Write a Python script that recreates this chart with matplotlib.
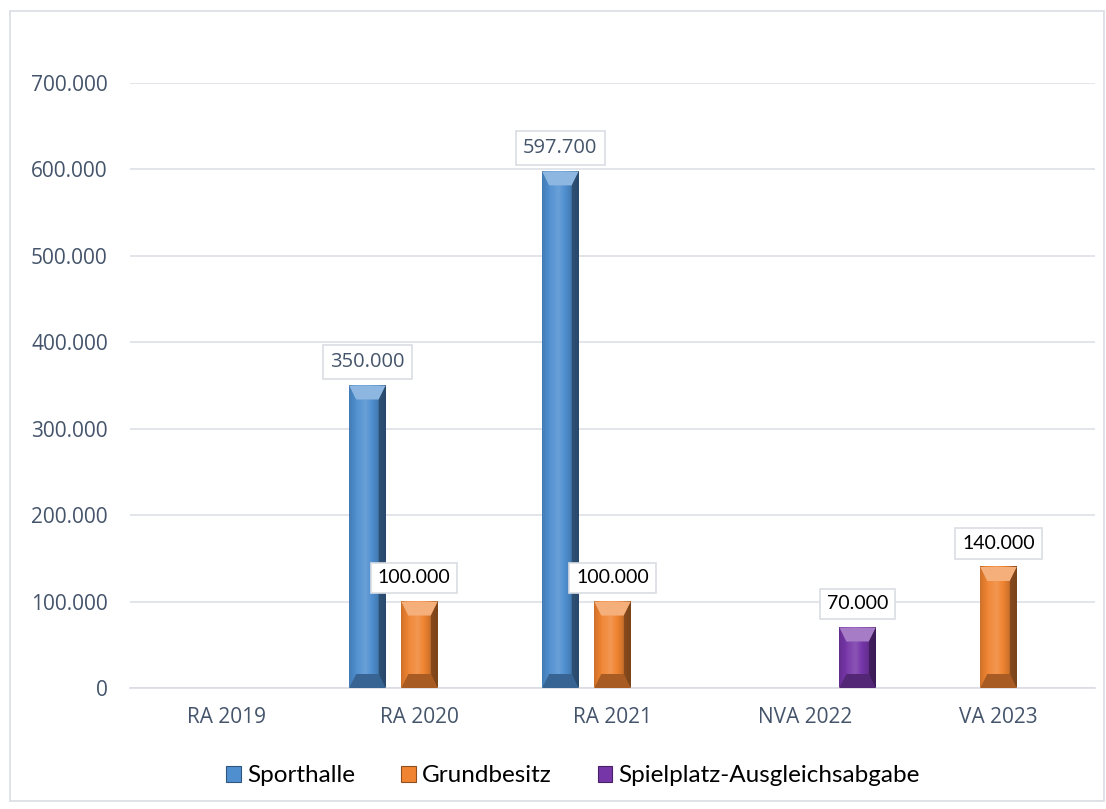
import numpy as np
import matplotlib
matplotlib.use("Agg")
import matplotlib.pyplot as plt
from matplotlib.patches import Polygon, Rectangle, Patch
from matplotlib.colors import to_rgb

# data
categories = ["RA 2019", "RA 2020", "RA 2021", "NVA 2022", "VA 2023"]
series_names = ["Sporthalle", "Grundbesitz", "Spielplatz-Ausgleichsabgabe"]
sporthalle = [0, 350000, 597700, 0, 0]
grundbesitz = [0, 100000, 100000, 0, 140000]
spielplatz = [0, 0, 0, 70000, 0]
y_ticks = [0, 100000, 200000, 300000, 400000, 500000, 600000, 700000]

colors = ["#4F8FD0", "#F08432", "#7636A8"]
label_colors = ["#44546A", "#000000", "#000000"]
label_fonts = ["Open Sans", "Lato", "Lato"]
label_sizes = [14.5, 14, 14]
offsets = [-0.27, 0.0, 0.27]
bar_w = 0.19

W, H = 1106, 809
fig = plt.figure(figsize=(W / 100, H / 100), dpi=100)
ax_l, ax_r, ax_b, ax_t = 130 / W, 1095 / W, 1 - 688 / H, 1 - 83 / H
ax = fig.add_axes([ax_l, ax_b, ax_r - ax_l, ax_t - ax_b])

# outer frame
fig.patches.append(Rectangle((10 / W, 8 / H), 1094 / W, 790 / H, transform=fig.transFigure,
                             fill=False, edgecolor="#D9DDE3", linewidth=1.2))

ax.set_xlim(-0.5, len(categories) - 0.5)
ax.set_ylim(0, 700000)
x_per_px = len(categories) / (ax_r - ax_l) / W
y_per_px = 700000 / (ax_t - ax_b) / H


def shade(c, f):
    c = np.array(to_rgb(c))
    if f >= 0:
        return c + (1 - c) * f
    return c * (1 + f)


def bevel_bar(x0, w, h, color):
    # horizontal gradient face
    t = np.linspace(0, 1, 60)
    prof = np.interp(t, [0, 0.15, 0.45, 0.8, 1], [-0.25, 0.0, 0.15, -0.15, -0.45])
    row = np.array([shade(color, f) for f in prof])
    img = np.tile(row[None, :, :], (2, 1, 1))
    ax.imshow(img, extent=(x0, x0 + w, 0, h), aspect="auto", zorder=2, interpolation="bilinear")
    bw = 7 * x_per_px
    bh = min(14 * y_per_px, h / 2)
    x1, top = x0 + w, h
    top_poly = [(x0, top), (x1, top), (x1 - bw, top - bh), (x0 + bw, top - bh)]
    bot_poly = [(x0, 0), (x1, 0), (x1 - bw, bh), (x0 + bw, bh)]
    left_poly = [(x0, top), (x0 + bw, top - bh), (x0 + bw, bh), (x0, 0)]
    right_poly = [(x1, top), (x1 - bw, top - bh), (x1 - bw, bh), (x1, 0)]
    ax.add_patch(Polygon(top_poly, closed=True, facecolor=shade(color, 0.35), edgecolor="none", zorder=3))
    ax.add_patch(Polygon(bot_poly, closed=True, facecolor=shade(color, -0.3), edgecolor="none", zorder=3))
    ax.add_patch(Polygon(left_poly, closed=True, facecolor=shade(color, -0.05), edgecolor="none", zorder=3, alpha=0.6))
    ax.add_patch(Polygon(right_poly, closed=True, facecolor=shade(color, -0.5), edgecolor="none", zorder=3, alpha=0.8))


x = np.arange(len(categories))
for s, vals in enumerate([sporthalle, grundbesitz, spielplatz]):
    bars = ax.bar(x + offsets[s], vals, width=bar_w, color="none", edgecolor="none", zorder=2)
    for b, v in zip(bars, vals):
        if v <= 0:
            continue
        bevel_bar(b.get_x(), b.get_width(), v, colors[s])
        dx = -0.03 if (s == 1 and v == 100000 and b.get_x() < 1.5) else 0
        ax.annotate(f"{v:,.0f}".replace(",", "."), xy=(b.get_x() + b.get_width() / 2 + dx, v),
                    xytext=(0, 17), textcoords="offset points", ha="center", va="center",
                    fontsize=label_sizes[s], color=label_colors[s], family=label_fonts[s], zorder=5,
                    bbox=dict(boxstyle="square,pad=0.35", facecolor="white", edgecolor="#D9DDE3", linewidth=1.2))

ax.set_xlim(-0.5, len(categories) - 0.5)
ax.set_ylim(0, 700000)
ax.set_xticks(x)
ax.set_xticklabels(categories)
ax.set_yticks(y_ticks)
ax.set_yticklabels([f"{v:,.0f}".replace(",", ".") for v in y_ticks])
ax.tick_params(axis="both", length=0, labelsize=15, labelcolor="#44546A")
ax.tick_params(axis="y", pad=16)
ax.tick_params(axis="x", pad=14)
for lab in ax.get_xticklabels() + ax.get_yticklabels():
    lab.set_family("Open Sans")
ax.grid(axis="y", color="#DDE1E6", linewidth=1.2, zorder=0)
ax.set_axisbelow(True)
for sp in ["top", "right", "left"]:
    ax.spines[sp].set_visible(False)
ax.spines["bottom"].set_color("#D9DDE3")
ax.spines["bottom"].set_linewidth(1.2)

handles = [Patch(facecolor=c, edgecolor=shade(c, -0.4), linewidth=0.8) for c in colors]
fig.legend(handles, series_names, loc="center", bbox_to_anchor=(0.518, 1 - 776 / H), ncol=3, frameon=False,
           prop={"family": "Lato", "size": 17.5}, handlelength=0.6, handleheight=0.6, handletextpad=0.25,
           columnspacing=1.9)

fig.savefig("out.png", dpi=100)
